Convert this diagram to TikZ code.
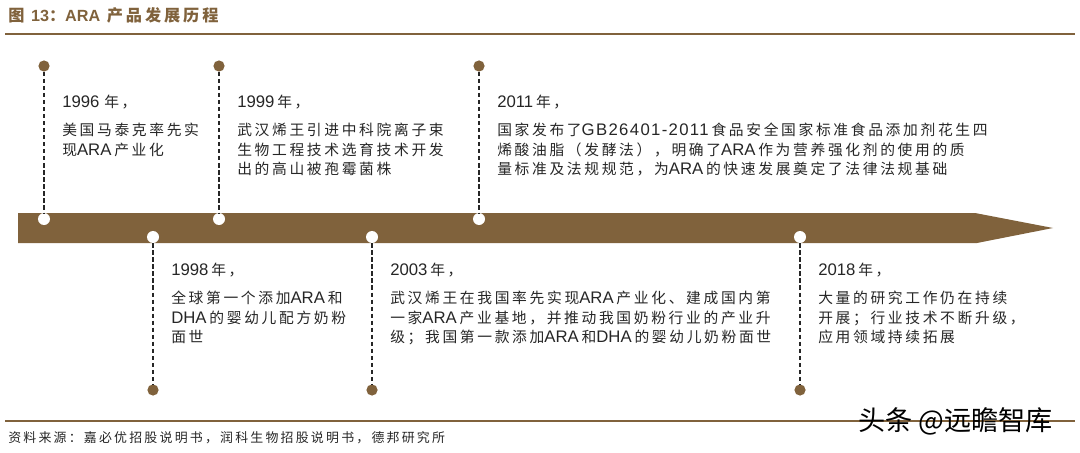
\documentclass[tikz,border=0pt]{standalone}
\usepackage{fontspec}
\usepackage{xcolor}
\usepackage{tikz}
\usetikzlibrary{positioning}
\setmainfont{Noto Sans CJK SC}[LetterSpace=18]
\newfontfamily\latf{Liberation Sans}
\newfontfamily\latwide{Liberation Sans}[LetterSpace=8]
\newfontfamily\cjkfoot{Noto Sans CJK SC}[LetterSpace=17]
\newfontfamily\cjkplain{Noto Sans CJK SC}
\newcommand\la[1]{{\latf\fontsize{11.9pt}{13.9pt}\selectfont #1}\hspace{0.07cm}}
\newcommand\lawide[1]{{\latwide\fontsize{11.9pt}{13.9pt}\selectfont #1}\hspace{0.07cm}}
\definecolor{barcolor}{RGB}{128,98,60}
\definecolor{textcolor}{RGB}{38,38,38}

\begin{document}
\begin{tikzpicture}[
    x=0.025cm, y=-0.025cm,
    timeline/.style={fill=barcolor},
    rule/.style={draw=barcolor, line width=1.1pt},
    topdot/.style={circle, fill=barcolor, inner sep=0pt, minimum size=0.28cm},
    bandpt/.style={circle, fill=white, inner sep=0pt, minimum size=0.3cm},
    stem/.style={draw=textcolor, line width=1.1pt, dash pattern=on 3pt off 2pt},
    event/.style={anchor=north west, align=left, inner sep=0pt, text=textcolor, font=\fontsize{10.5pt}{13.9pt}\selectfont}
]
    \useasboundingbox (0,0) rectangle (1080,453);

    % title and rules
    \node[anchor=base west, inner sep=0pt, text=barcolor, font=\fontsize{11.5pt}{13pt}\selectfont\bfseries] (title) at (8,22) {图 {\latf\bfseries 13}：{\latf\bfseries ARA} 产品发展历程};
    \draw[rule] (5,34) -- (1075,34);
    \draw[rule] (5,421) -- (1075,421);

    % the arrow band
    \fill[timeline] (18,213) -- (975,213) -- (1053,228) -- (977,243) -- (18,243) -- cycle;

    \node[topdot] (top96) at (44,66) {};
    \node[topdot] (top99) at (219,66) {};
    \node[topdot] (top11) at (479,66) {};
    \node[bandpt] (band96) at (44,219) {};
    \node[bandpt] (band99) at (219,219) {};
    \node[bandpt] (band11) at (479,219) {};

    \node[bandpt] (band98) at (153,237) {};
    \node[bandpt] (band03) at (372,237) {};
    \node[bandpt] (band18) at (800,237) {};
    \node[topdot] (bot98) at (153,390) {};
    \node[topdot] (bot03) at (372,390) {};
    \node[topdot] (bot18) at (800,390) {};

    \draw[stem] (top96) -- (band96);
    \draw[stem] (top99) -- (band99);
    \draw[stem] (top11) -- (band11);
    \draw[stem] (band98) -- (bot98);
    \draw[stem] (band03) -- (bot03);
    \draw[stem] (band18) -- (bot18);

    % events above the band
    \node[event] (ev1996) at (62,95) {\la{1996}\hspace{0.05cm}年，\\[6pt]
美国马泰克率先实\\
现\la{ARA}产业化};
    \node[event] (ev1999) at (237,95) {\la{1999}年，\\[6pt]
武汉烯王引进中科院离子束\\
生物工程技术选育技术开发\\
出的高山被孢霉菌株};
    \node[event] (ev2011) at (497,95) {\la{2011}年，\\[6pt]
国家发布了\lawide{GB26401-2011}食品安全国家标准食品添加剂花生四\\
烯酸油脂（发酵法），明确了\la{ARA}作为营养强化剂的使用的质\\
量标准及法规规范，为\la{ARA}的快速发展奠定了法律法规基础};

    % events below the band
    \node[event] (ev1998) at (171,263) {\la{1998}年，\\[6pt]
全球第一个添加\la{ARA}和\\
\la{DHA}的婴幼儿配方奶粉\\
面世};
    \node[event] (ev2003) at (390,263) {\la{2003}年，\\[6pt]
武汉烯王在我国率先实现\la{ARA}产业化、建成国内第\\
一家\la{ARA}产业基地，并推动我国奶粉行业的产业升\\
级；我国第一款添加\la{ARA}和\la{DHA}的婴幼儿奶粉面世};
    \node[event] (ev2018) at (818,263) {\la{2018}年，\\[6pt]
大量的研究工作仍在持续\\
开展；行业技术不断升级，\\
应用领域持续拓展};

    % source and mark
    \node[anchor=base west, inner sep=0pt, text=textcolor, font=\cjkfoot\fontsize{9.2pt}{11pt}\selectfont] (source) at (8,442) {资料来源：嘉必优招股说明书，润科生物招股说明书，德邦研究所};
    \node[anchor=base west, inner sep=0pt, text=black, font=\cjkplain\fontsize{19.3pt}{21pt}\selectfont] (mark) at (858,430) {头条 @远瞻智库};
\end{tikzpicture}
\end{document}
